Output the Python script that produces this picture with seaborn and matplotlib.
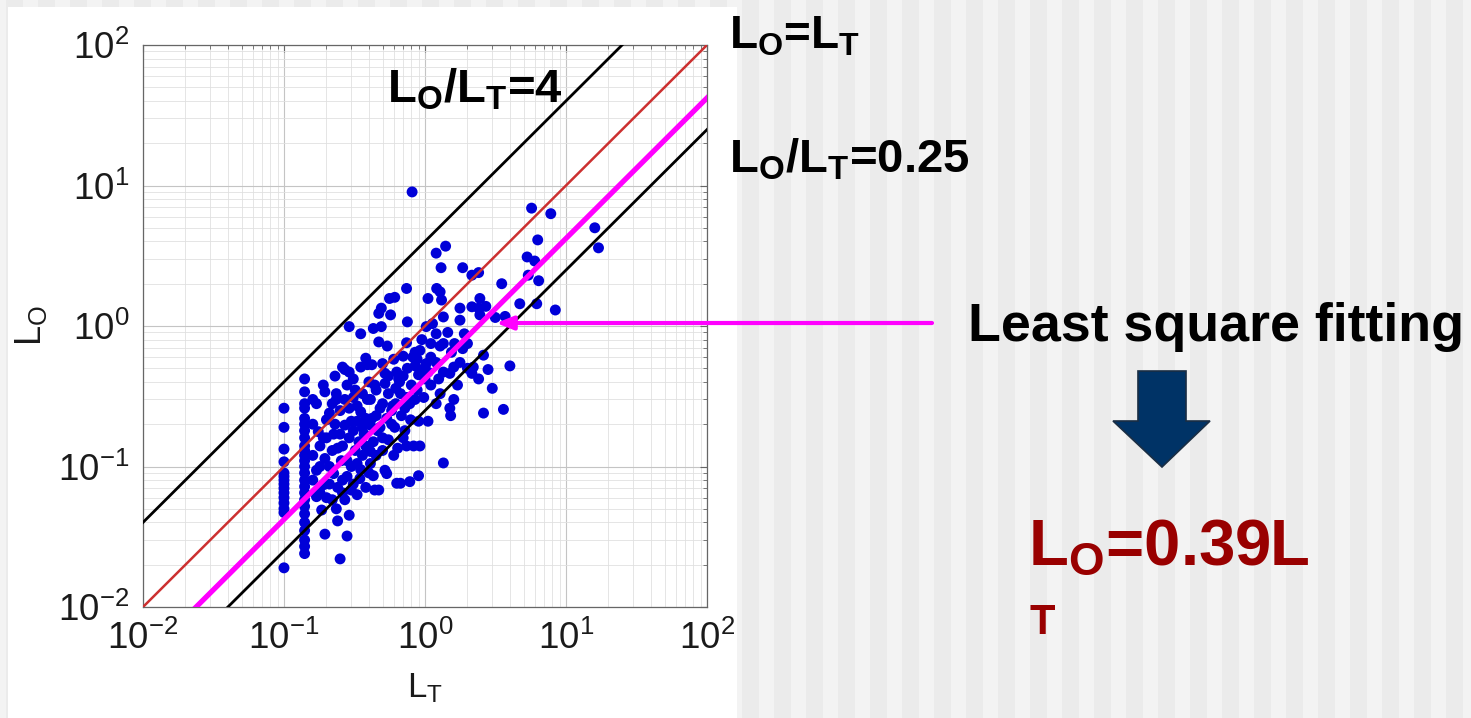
import numpy as np
import pandas as pd
import matplotlib
matplotlib.use("Agg")
import matplotlib.pyplot as plt
import seaborn as sns
from matplotlib.patches import Rectangle, Polygon
from matplotlib.ticker import LogLocator

# ---------------- data ----------------
col_010_y = [0.26, 0.19, 0.133, 0.108, 0.09, 0.085, 0.08, 0.075, 0.07, 0.065,
             0.06, 0.055, 0.05, 0.047, 0.019]
col_014_y = [0.42, 0.34, 0.28, 0.26, 0.22, 0.2, 0.18, 0.16, 0.14, 0.13, 0.12,
             0.11, 0.1, 0.09, 0.08, 0.072, 0.065, 0.058, 0.052, 0.046, 0.04,
             0.035, 0.03, 0.027, 0.024]

cloud_LT = [0.81, 5.7, 7.8, 6.3, 16, 17, 1.4, 1.2, 5.3, 6.0, 1.3, 1.85, 2.4, 2.15,
            5.4, 6.4, 3.5, 0.74, 1.21, 1.28, 0.56, 0.61, 1.05, 1.31, 2.45, 4.7,
            6.2, 8.4, 0.49, 1.77, 2.15, 2.4, 2.7, 0.57, 0.47, 1.35, 1.77, 2.45,
            3.15, 3.7, 0.75, 1.13, 0.29, 0.43, 0.49, 1.02, 0.35, 1.2, 1.9, 0.47,
            0.54, 0.74, 1.1, 1.28, 1.35, 1.62, 1.85, 1.54, 2.6, 0.38, 0.7, 0.85,
            0.92, 0.26, 0.35, 0.42, 0.5, 1.02, 1.2, 1.77, 1.6, 2.2, 2.8, 4.0,
            0.27, 0.29, 0.39, 0.63, 0.70, 0.52, 0.45, 0.28, 0.235, 0.19, 0.195,
            0.235, 0.17, 0.22, 0.31, 0.36, 0.41, 0.50, 0.67, 0.74, 0.59,
            0.9, 1.0, 0.95, 1.05, 1.35, 1.5, 2.0, 2.15, 2.4, 3.0, 1.7, 1.28, 1.1,
            0.85, 0.98, 1.2, 1.5, 1.52, 2.6, 3.6,
            0.25, 0.29, 0.35, 0.45, 0.535, 0.68, 0.79, 0.9, 1.05, 0.20, 0.27,
            0.33, 0.41, 0.48, 0.61, 0.72, 0.175, 0.225, 0.29, 0.37, 0.43, 0.55,
            0.18, 0.24, 0.32, 0.41, 0.50, 0.64, 0.74, 0.83, 0.92, 0.195, 0.255,
            0.33, 0.41, 0.52, 0.535, 1.35, 0.17, 0.225, 0.28, 0.345, 0.43, 0.63,
            0.67, 0.78, 0.90, 0.19, 0.24, 0.30, 0.38, 0.44, 0.47, 0.17, 0.22,
            0.27, 0.33, 0.185, 0.235, 0.29, 0.24, 0.195, 0.28, 0.25,
            0.16, 0.16, 0.16, 0.21, 0.21, 0.26, 0.31, 0.38, 0.30, 0.36, 0.46,
            0.58, 0.62, 0.55, 0.80, 0.20, 0.26, 0.34, 0.40, 0.31, 0.60, 0.85,
            0.75, 0.23, 0.18, 0.21, 0.72, 0.66, 0.88,
            0.16, 0.18, 0.19, 0.2, 0.22, 0.23, 0.25, 0.26, 0.27, 0.28, 0.3, 0.31,
            0.32, 0.33, 0.35, 0.36, 0.38, 0.39, 0.4, 0.42, 0.44, 0.45, 0.48, 0.5,
            0.52, 0.55, 0.58, 0.6, 0.62, 0.65, 0.7, 0.78, 0.82, 0.88, 0.95, 1.1,
            1.25, 1.45, 1.6, 2.0]
cloud_LO = [9.0, 6.9, 6.3, 4.1, 5.0, 3.6, 3.7, 3.3, 3.1, 2.9, 2.6, 2.6, 2.4, 2.3,
            2.3, 2.1, 2.0, 1.85, 1.85, 1.75, 1.57, 1.6, 1.57, 1.53, 1.57, 1.44,
            1.44, 1.3, 1.34, 1.34, 1.37, 1.34, 1.38, 1.2, 1.23, 1.16, 1.1, 1.2,
            1.15, 1.17, 1.07, 1.04, 0.99, 0.96, 0.99, 0.99, 0.88, 0.88, 0.88, 0.77,
            0.72, 0.76, 0.75, 0.72, 0.75, 0.75, 0.69, 0.65, 0.62, 0.59, 0.61, 0.65,
            0.67, 0.51, 0.51, 0.53, 0.54, 0.54, 0.55, 0.55, 0.51, 0.51, 0.49, 0.52,
            0.49, 0.47, 0.53, 0.47, 0.44, 0.39, 0.35, 0.38, 0.33, 0.38, 0.34,
            0.30, 0.28, 0.28, 0.31, 0.33, 0.30, 0.28, 0.33, 0.31, 0.27,
            0.45, 0.42, 0.49, 0.47, 0.47, 0.46, 0.5, 0.46, 0.42, 0.36, 0.38, 0.33, 0.38,
            0.30, 0.31, 0.28, 0.26, 0.23, 0.24, 0.255,
            0.25, 0.26, 0.245, 0.23, 0.22, 0.23, 0.215, 0.21, 0.21, 0.215, 0.197,
            0.21, 0.197, 0.19, 0.19, 0.18, 0.177, 0.17, 0.16, 0.17, 0.15, 0.155,
            0.14, 0.135, 0.13, 0.128, 0.13, 0.135, 0.14, 0.14, 0.14, 0.114, 0.11,
            0.105, 0.105, 0.094, 0.089, 0.106, 0.094, 0.089, 0.085, 0.082, 0.086, 0.076,
            0.076, 0.078, 0.086, 0.074, 0.071, 0.068, 0.071, 0.068, 0.068, 0.061, 0.058,
            0.058, 0.063, 0.049, 0.05, 0.045, 0.041, 0.033, 0.032, 0.022,
            0.2, 0.12, 0.08, 0.24, 0.1, 0.14, 0.18, 0.22, 0.1, 0.12, 0.18,
            0.25, 0.36, 0.44, 0.38, 0.16, 0.08, 0.15, 0.4, 0.42, 0.12, 0.52,
            0.5, 0.44, 0.065, 0.075, 0.26, 0.40, 0.58,
            0.3, 0.1, 0.16, 0.06, 0.13, 0.2, 0.17, 0.065, 0.3, 0.11, 0.21, 0.075,
            0.35, 0.27, 0.095, 0.19, 0.14, 0.3, 0.09, 0.22, 0.38, 0.12, 0.26, 0.16,
            0.46, 0.33, 0.2, 0.58, 0.28, 0.42, 0.16, 0.28, 0.6, 0.35, 0.8, 0.6,
            0.42, 0.9, 0.3, 0.75]

L_T = [0.1] * len(col_010_y) + [0.14] * len(col_014_y) + cloud_LT
L_O = col_010_y + col_014_y + cloud_LO
df = pd.DataFrame({"L_T": L_T, "L_O": L_O})

ratio_upper = 4.0       # L_O/L_T = 4
ratio_equal = 1.0       # L_O = L_T
ratio_lower = 0.25      # L_O/L_T = 0.25
fit_ratio = 0.42        # drawn least-square line
fit_label = "0.39"

x_ticks = [1e-2, 1e-1, 1e0, 1e1, 1e2]

# ---------------- style ----------------
sns.set_style("white")
plt.rcParams["font.family"] = ["Liberation Sans", "DejaVu Sans"]
plt.rcParams["mathtext.fontset"] = "custom"
plt.rcParams["mathtext.rm"] = "Liberation Sans"
plt.rcParams["mathtext.bf"] = "Liberation Sans:bold"
plt.rcParams["mathtext.it"] = "Liberation Sans:italic"
plt.rcParams["axes.unicode_minus"] = False

W, H = 1471, 718
fig = plt.figure(figsize=(W / 100, H / 100), dpi=100)
fig.patch.set_facecolor("#f3f3f3")

# striped background
for x0 in range(742 - 32 * 24, W, 32):
    fig.add_artist(Rectangle((x0 / W, 0), 17 / W, 1, transform=fig.transFigure,
                             facecolor="#ebebeb", edgecolor="none", zorder=-20))
fig.add_artist(Rectangle((8 / W, 0), (737 - 8) / W, (H - 7) / H,
                         transform=fig.transFigure, facecolor="white",
                         edgecolor="none", zorder=-10))

ax = fig.add_axes([143 / W, 1 - 607 / H, 564 / W, 562 / H])
ax.set_facecolor("white")

sns.scatterplot(data=df, x="L_T", y="L_O", ax=ax, color="#0000d8", s=62,
                edgecolor="none", linewidth=0, zorder=3, legend=False)

ax.set_xscale("log")
ax.set_yscale("log")
ax.set_xlim(1e-2, 1e2)
ax.set_ylim(1e-2, 1e2)
ax.set_xticks(x_ticks)
ax.set_yticks(x_ticks)
ax.xaxis.set_minor_locator(LogLocator(base=10, subs=np.arange(2, 10), numticks=50))
ax.yaxis.set_minor_locator(LogLocator(base=10, subs=np.arange(2, 10), numticks=50))

xs = np.array([1e-3, 1e3])
ax.plot(xs, ratio_upper * xs, color="black", lw=2.0, zorder=4)
ax.plot(xs, ratio_equal * xs, color="#cc3030", lw=1.8, zorder=4)
ax.plot(xs, ratio_lower * xs, color="black", lw=2.0, zorder=4)
ax.plot(xs, fit_ratio * xs, color="#ff00ff", lw=3.8, zorder=5)

ax.grid(True, which="major", color="#c4c4c4", lw=0.8)
ax.grid(True, which="minor", color="#e0e0e0", lw=0.6)
ax.set_axisbelow(True)
for sp in ax.spines.values():
    sp.set_color("#666666")
    sp.set_linewidth(0.9)
ax.tick_params(which="both", direction="in", top=True, right=True,
               colors="#666666", labelcolor="#1a1a1a")
ax.tick_params(which="major", length=5, labelsize=26.5, pad=10)
ax.tick_params(which="minor", length=3)

ax.set_xlabel(r"L$_\mathrm{T}$", fontsize=25, color="#1a1a1a", labelpad=10)
ax.set_ylabel(r"L$_\mathrm{O}$", fontsize=26, color="#1a1a1a", labelpad=6)

# arrow pointing at the fitted line
ax.annotate("", xy=(3.2, 1.05), xycoords="data",
            xytext=(932 / W, 1 - 323 / H), textcoords="figure fraction",
            arrowprops=dict(arrowstyle="-|>,head_length=1.0,head_width=0.4",
                            color="#ff00ff", lw=3, shrinkA=0, shrinkB=0),
            annotation_clip=False, zorder=6)

# texts
bold = dict(fontweight="bold", va="baseline", ha="left")
fig.text(387 / W, 1 - 103 / H, r"L$_\mathbf{O}$/L$_\mathbf{T}$=4",
         fontsize=34, color="black", **bold)
fig.text(729 / W, 1 - 48 / H, r"L$_\mathbf{O}$=L$_\mathbf{T}$",
         fontsize=33, color="black", **bold)
fig.text(729 / W, 1 - 172 / H, r"L$_\mathbf{O}$/L$_\mathbf{T}$=0.25",
         fontsize=34, color="black", **bold)
fig.text(968 / W, 1 - 341 / H, "Least square fitting",
         fontsize=38.7, color="black", **bold)
fig.text(1028 / W, 1 - 565 / H, r"L$_\mathbf{O}$=" + fit_label + "L",
         fontsize=47, color="#990000", **bold)
fig.text(1030 / W, 1 - 634 / H, "T", fontsize=30, color="#990000", **bold)

# block down arrow (display pixel coords)
pts = [(1138, 371), (1186, 371), (1186, 421), (1210, 421), (1162, 467),
       (1113, 421), (1138, 421)]
fig.add_artist(Polygon([(x, H - y) for x, y in pts], closed=True, transform=None,
                       facecolor="#003366", edgecolor="#1a2e44", lw=1.2, zorder=5))

fig.savefig("out.png", dpi=100, facecolor=fig.get_facecolor())
